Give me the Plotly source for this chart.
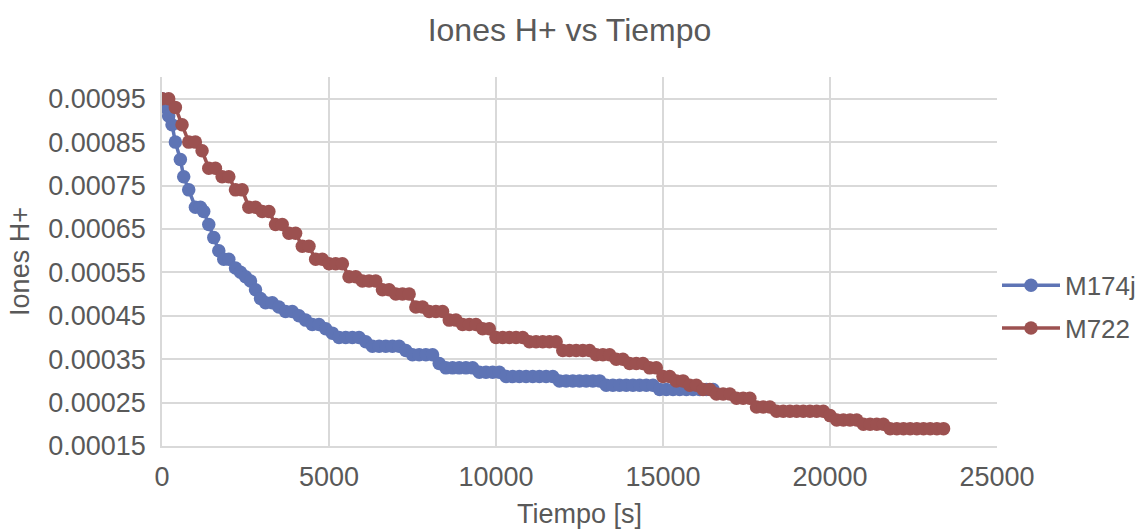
import plotly.graph_objects as go

# ---- data ----
m174j_t = [0, 100, 200, 300, 400, 550, 650, 800, 1000, 1150, 1250, 1400, 1550, 1700, 1850, 2000,
           2200, 2350, 2500, 2650, 2800, 2950, 3100, 3300, 3500, 3700, 3900, 4100, 4300, 4500,
           4700, 4900, 5100, 5300, 5500, 5700, 5900, 6100, 6300, 6500, 6700, 6900, 7100, 7300,
           7500, 7700, 7900, 8100, 8300, 8500, 8700, 8900, 9100, 9300, 9500, 9700, 9900, 10100,
           10300, 10500, 10700, 10900, 11100, 11300, 11500, 11700, 11900, 12100, 12300, 12500,
           12700, 12900, 13100, 13300, 13500, 13700, 13900, 14100, 14300, 14500, 14700, 14900,
           15100, 15300, 15500, 15700, 15900, 16100, 16300, 16500]
m174j_h = [0.00095, 0.00093, 0.00091, 0.00089, 0.00085, 0.00081, 0.00077, 0.00074, 0.00070, 0.00070,
           0.00069, 0.00066, 0.00063, 0.00060, 0.00058, 0.00058, 0.00056, 0.00055, 0.00054, 0.00053,
           0.00051, 0.00049, 0.00048, 0.00048, 0.00047, 0.00046, 0.00046, 0.00045, 0.00044, 0.00043,
           0.00043, 0.00042, 0.00041, 0.00040, 0.00040, 0.00040, 0.00040, 0.00039, 0.00038, 0.00038,
           0.00038, 0.00038, 0.00038, 0.00037, 0.00036, 0.00036, 0.00036, 0.00036, 0.00034, 0.00033,
           0.00033, 0.00033, 0.00033, 0.00033, 0.00032, 0.00032, 0.00032, 0.00032, 0.00031, 0.00031,
           0.00031, 0.00031, 0.00031, 0.00031, 0.00031, 0.00031, 0.00030, 0.00030, 0.00030, 0.00030,
           0.00030, 0.00030, 0.00030, 0.00029, 0.00029, 0.00029, 0.00029, 0.00029, 0.00029, 0.00029,
           0.00029, 0.00028, 0.00028, 0.00028, 0.00028, 0.00028, 0.00028, 0.00028, 0.00028, 0.00028]

m722_t = [0, 200, 400, 600, 800, 1000, 1200, 1400, 1600, 1800, 2000, 2200, 2400, 2600, 2800, 3000,
          3200, 3400, 3600, 3800, 4000, 4200, 4400, 4600, 4800, 5000, 5200, 5400, 5600, 5800, 6000,
          6200, 6400, 6600, 6800, 7000, 7200, 7400, 7600, 7800, 8000, 8200, 8400, 8600, 8800, 9000,
          9200, 9400, 9600, 9800, 10000, 10200, 10400, 10600, 10800, 11000, 11200, 11400, 11600,
          11800, 12000, 12200, 12400, 12600, 12800, 13000, 13200, 13400, 13600, 13800, 14000, 14200,
          14400, 14600, 14800, 15000, 15200, 15400, 15600, 15800, 16000, 16200, 16400, 16600, 16800,
          17000, 17200, 17400, 17600, 17800, 18000, 18200, 18400, 18600, 18800, 19000, 19200, 19400,
          19600, 19800, 20000, 20200, 20400, 20600, 20800, 21000, 21200, 21400, 21600, 21800, 22000,
          22200, 22400, 22600, 22800, 23000, 23200, 23400]
m722_h = [0.00095, 0.00095, 0.00093, 0.00089, 0.00085, 0.00085, 0.00083, 0.00079, 0.00079, 0.00077,
          0.00077, 0.00074, 0.00074, 0.00070, 0.00070, 0.00069, 0.00069, 0.00066, 0.00066, 0.00064,
          0.00064, 0.00061, 0.00061, 0.00058, 0.00058, 0.00057, 0.00057, 0.00057, 0.00054, 0.00054,
          0.00053, 0.00053, 0.00053, 0.00051, 0.00051, 0.00050, 0.00050, 0.00050, 0.00047, 0.00047,
          0.00046, 0.00046, 0.00046, 0.00044, 0.00044, 0.00043, 0.00043, 0.00043, 0.00042, 0.00042,
          0.00040, 0.00040, 0.00040, 0.00040, 0.00040, 0.00039, 0.00039, 0.00039, 0.00039, 0.00039,
          0.00037, 0.00037, 0.00037, 0.00037, 0.00037, 0.00036, 0.00036, 0.00036, 0.00035, 0.00035,
          0.00034, 0.00034, 0.00034, 0.00033, 0.00033, 0.00031, 0.00031, 0.00030, 0.00030, 0.00029,
          0.00029, 0.00028, 0.00028, 0.00027, 0.00027, 0.00027, 0.00026, 0.00026, 0.00026, 0.00024,
          0.00024, 0.00024, 0.00023, 0.00023, 0.00023, 0.00023, 0.00023, 0.00023, 0.00023, 0.00023,
          0.00022, 0.00021, 0.00021, 0.00021, 0.00021, 0.00020, 0.00020, 0.00020, 0.00020, 0.00019,
          0.00019, 0.00019, 0.00019, 0.00019, 0.00019, 0.00019, 0.00019, 0.00019]

y_ticks = [0.00015, 0.00025, 0.00035, 0.00045, 0.00055, 0.00065, 0.00075, 0.00085, 0.00095]
y_labels = ["0.00015", "0.00025", "0.00035", "0.00045", "0.00055", "0.00065", "0.00075", "0.00085", "0.00095"]
x_ticks = [0, 5000, 10000, 15000, 20000, 25000]

BLUE = "#5E74B5"
RED = "#9C5150"
TXT = "#595959"
GRID = "#D9D9D9"
FONT = "Liberation Sans, Arial, sans-serif"

fig = go.Figure()
fig.add_trace(go.Scatter(x=m174j_t, y=m174j_h, name="M174j", mode="lines+markers", legendgroup="a",
                         line=dict(color=BLUE, width=3.5), marker=dict(color=BLUE, size=13.5)))
fig.add_trace(go.Scatter(x=m722_t, y=m722_h, name="M722", mode="lines+markers", legendgroup="b",
                         line=dict(color=RED, width=3.5), marker=dict(color=RED, size=13.5)))

fig.update_layout(
    width=1139, height=529,
    paper_bgcolor="white", plot_bgcolor="white",
    font=dict(family=FONT, color=TXT, size=27),
    title=dict(text="Iones H+ vs Tiempo", x=0.5, xanchor="center", y=0.943, yanchor="middle",
               font=dict(size=32, color=TXT)),
    margin=dict(l=162, r=142, t=77, b=83, autoexpand=False),
    legend=dict(x=1.0, y=0.377, xanchor="left", yanchor="middle", font=dict(size=26, color=TXT),
                itemwidth=58, tracegroupgap=6, bgcolor="rgba(0,0,0,0)"),
    showlegend=True,
)
fig.update_xaxes(range=[0, 25000], tickvals=x_ticks, ticktext=[str(v) for v in x_ticks],
                 showgrid=True, gridcolor=GRID, gridwidth=1.5, zeroline=False, automargin=False,
                 showline=True, linecolor=GRID, linewidth=1.5, ticks="", ticklabelstandoff=6,
                 title=dict(text="Tiempo [s]", standoff=13, font=dict(size=27, color=TXT)))
fig.update_yaxes(range=[0.00015, 0.001], tickvals=y_ticks, ticktext=y_labels,
                 showgrid=True, gridcolor=GRID, gridwidth=1.5, zeroline=False, automargin=False,
                 showline=True, linecolor=GRID, linewidth=1.5, ticks="", ticklabelstandoff=9,
                 title=dict(text="Iones H+", standoff=11, font=dict(size=27, color=TXT)))

fig.write_html("out.html", config={"displayModeBar": False},
               post_script="document.body.style.margin='0';")
